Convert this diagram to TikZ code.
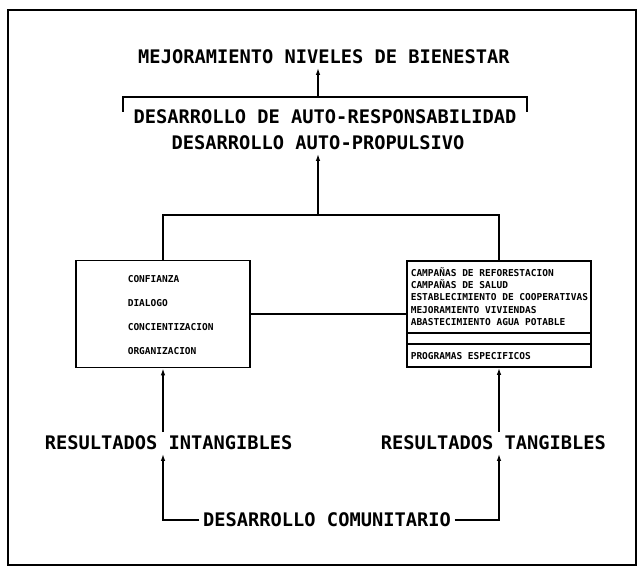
\documentclass[tikz,border=0pt]{standalone}
\usepackage{fontspec}
\usepackage{tikz}
\usetikzlibrary{arrows.meta}
\newfontfamily\matriz{DejaVu Sans Mono}

\begin{document}
\begin{tikzpicture}[x=1pt,y=-1pt,line width=1.6pt,
    >={Latex[length=7pt,width=4.5pt]},
    grande/.style={font=\matriz\bfseries\fontsize{18.7}{20}\selectfont,inner sep=3pt},
    chica/.style={font=\matriz\bfseries\fontsize{9.5}{12.2}\selectfont,align=left,inner sep=0pt},
    caja/.style={draw,minimum width=174pt,minimum height=107pt}]
      \useasboundingbox (0,0) rectangle (642,577);
      \draw[line width=1.1pt] (8,10) rectangle (636,565);
      \node[grande] (bienestar) at (324,57) {MEJORAMIENTO NIVELES DE BIENESTAR};
      \node[grande] (responsab) at (325,117) {DESARROLLO DE AUTO-RESPONSABILIDAD};
      \node[grande] (propulsivo) at (318,143) {DESARROLLO AUTO-PROPULSIVO};
      \coordinate (llave) at (318,97);
      \coordinate (junta) at (318,215);
      \draw (123,112)--(123,97)--(527,97)--(527,112);
      \draw[->] (llave)--(llave |- bienestar.south);
      \draw[->] (junta)--(junta |- propulsivo.south);
      \node[caja] (cajaint) at (163,314) {};
      \node[caja,minimum width=184pt,minimum height=106pt] (cajatang) at (499,314) {};
      \draw (cajaint) |- (junta) -| (cajatang);
      \draw (cajaint)--(cajatang);
      \draw (cajatang.west |- 0,333)--(cajatang.east |- 0,333);
      \draw (cajatang.west |- 0,344)--(cajatang.east |- 0,344);
      \node[chica,anchor=west,font=\matriz\bfseries\fontsize{9.5}{24}\selectfont] (valores) at (127,315)
      {CONFIANZA\\DIALOGO\\CONCIENTIZACION\\ORGANIZACION};
      \node[chica,anchor=west] (acciones) at (410,296.5)
      {CAMPAÑAS DE REFORESTACION\\CAMPAÑAS DE SALUD\\ESTABLECIMIENTO DE COOPERATIVAS\\MEJORAMIENTO VIVIENDAS\\ABASTECIMIENTO AGUA POTABLE};
      \node[chica,anchor=west] (programas) at (410,356) {PROGRAMAS ESPECIFICOS};
      \node[grande] (resint) at (168.6,443) {RESULTADOS INTANGIBLES};
      \node[grande] (restang) at (493.4,443) {RESULTADOS TANGIBLES};
      \node[grande] (comunitario) at (327,520) {DESARROLLO COMUNITARIO};
      \draw[->] (resint.north -| cajaint.south)--(cajaint.south);
      \draw[->] (restang.north -| cajatang.south)--(cajatang.south);
      \draw[->] (comunitario.west) -| (resint.south -| cajaint.south);
      \draw[->] (comunitario.east) -| (restang.south -| cajatang.south);
    \end{tikzpicture}
\end{document}
